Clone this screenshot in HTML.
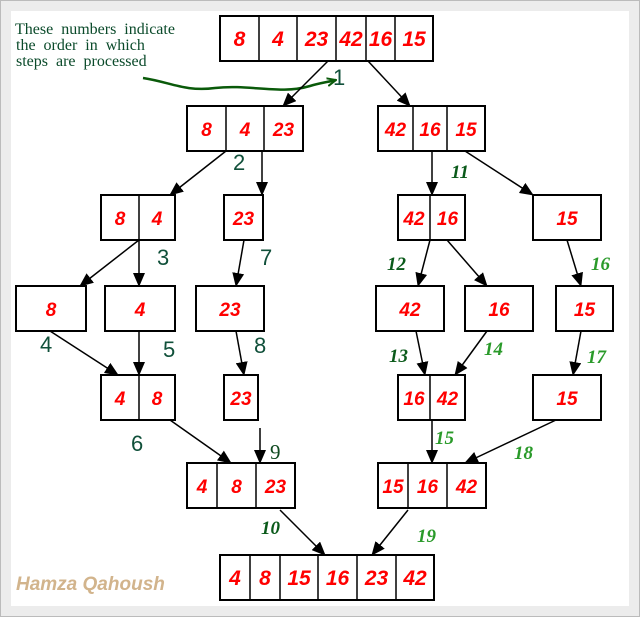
<!DOCTYPE html>
<html><head><meta charset="utf-8"><style>
html,body{margin:0;padding:0;background:#ececec;}
#wrap{position:relative;width:640px;height:617px;overflow:hidden;}
svg{position:absolute;left:0;top:0;}
</style></head><body>
<div id="wrap">
<svg id="s" width="640" height="617">
<defs><marker id="ah" markerWidth="14" markerHeight="12" refX="13" refY="6" orient="auto" markerUnits="userSpaceOnUse"><path d="M0,0 L14,6 L0,12 z" fill="#000"/></marker>
<marker id="gh" markerWidth="10" markerHeight="10" refX="9" refY="5" orient="auto" markerUnits="userSpaceOnUse"><path d="M0,1 L9,5 L0,9" fill="none" stroke="#0a5a0a" stroke-width="2"/></marker></defs>
<rect x="0.5" y="0.5" width="639" height="616" fill="#ececec" stroke="#bbb"/>
<rect x="11" y="11" width="618" height="595" fill="#fff"/>
<g font-family="Liberation Serif,serif" font-size="16" fill="#0a4a2a" word-spacing="4">
<text x="15" y="34">These numbers indicate</text>
<text x="16" y="50">the order in which</text>
<text x="16" y="66">steps are processed</text>
</g>
<path d="M143,78 C170,82 185,92 215,88 C250,84 280,95 310,86 C320,83 328,82 336,80" fill="none" stroke="#0a5a0a" stroke-width="2.5" marker-end="url(#gh)"/>
<text x="16" y="590" font-family="Liberation Sans,sans-serif" font-size="19" font-weight="bold" font-style="italic" fill="#d2b48c">Hamza Qahoush</text>
<g id="boxes"></g><g id="arrows"></g><g id="steps"></g>
</svg>
</div>
<script>
const boxX=[[220,259,297,336,366,395,433],[187,226,264,303],[378,413,447,485],[101,139,175],[224,263],[398,430,465],[533,601],[16,86],[105,175],[196,264],[376,444],[465,533],[556,613],[101,139,175],[224,258],[398,430,465],[533,601],[187,217,256,295],[378,408,447,486],[220,250,280,318,357,396,434]];
const boxY=[16,106,106,195,195,195,195,286,286,286,286,286,286,375,375,375,375,463,463,555];
const boxVals=[[8,4,23,42,16,15],[8,4,23],[42,16,15],[8,4],[23],[42,16],[15],[8],[4],[23],[42],[16],[15],[4,8],[23],[16,42],[15],[4,8,23],[15,16,42],[4,8,15,16,23,42]];
const arrows=[[328,61,283,106],[368,61,410,106],[226,151,170,195],[262,151,262,195],[432,151,432,195],[465,151,533,195],[139,240,80,286],[139,240,139,286],[244,240,236,286],[430,240,418,286],[447,240,487,286],[567,240,581,286],[50,331,118,375],[139,331,139,375],[236,331,244,375],[416,331,425,375],[487,331,455,375],[581,331,573,375],[170,420,231,463],[260,428,260,463],[432,420,432,463],[556,420,465,463],[280,510,325,555],[408,510,372,555]];
const stepLabels=["1","2","3","4","5","6","7","8","9","10","11","12","13","14","15","16","17","18","19"];
const stepPos=[[333,85],[233,170],[157,265],[40,352],[163,357],[131,451],[260,265],[254,353],[270,459],[261,534],[451,178],[387,270],[389,362],[484,355],[435,444],[591,270],[587,363],[514,459],[417,542]];
const stepStyle=["s","s","s","s","s","s","s","s","r","i","i","i","i","g","g","g","g","g","g"];
const NS="http://www.w3.org/2000/svg";
const B=document.getElementById('boxes'),A=document.getElementById('arrows'),T=document.getElementById('steps');
boxX.forEach((xs,i)=>{
 const g=document.createElementNS(NS,'g');
 
 
 const y=boxY[i];
 const fs=(i===0||i===19)?21:19;
 const r=document.createElementNS(NS,'rect');
 r.setAttribute('x',xs[0]);r.setAttribute('y',y);r.setAttribute('width',xs[xs.length-1]-xs[0]);r.setAttribute('height',45);
 r.setAttribute('fill','#fff');r.setAttribute('stroke','#000');r.setAttribute('stroke-width','2');
 g.appendChild(r);
 for(let k=1;k<xs.length-1;k++){const l=document.createElementNS(NS,'line');l.setAttribute('x1',xs[k]);l.setAttribute('x2',xs[k]);l.setAttribute('y1',y);l.setAttribute('y2',y+45);l.setAttribute('stroke','#000');l.setAttribute('stroke-width','1.5');g.appendChild(l);}
 const vals=boxVals[i];
 vals.forEach((v,k)=>{
  const cx=(xs.length-1===vals.length)?(xs[k]+xs[k+1])/2:(xs[0]+xs[xs.length-1])/2;
  const t=document.createElementNS(NS,'text');
  
  
  t.setAttribute('x',cx);t.setAttribute('y',y+30);t.setAttribute('text-anchor','middle');
  t.setAttribute('font-family','Liberation Sans,sans-serif');t.setAttribute('font-size',fs);t.setAttribute('font-weight','bold');t.setAttribute('font-style','italic');t.setAttribute('fill','#f00');
  t.textContent=v;g.appendChild(t);
 });
 B.appendChild(g);
});
arrows.forEach(a=>{
 const l=document.createElementNS(NS,'line');
 
 
 l.setAttribute('x1',a[0]);l.setAttribute('y1',a[1]);l.setAttribute('x2',a[2]);l.setAttribute('y2',a[3]);
 l.setAttribute('stroke','#000');l.setAttribute('stroke-width','1.5');l.setAttribute('marker-end','url(#ah)');
 A.appendChild(l);
});
stepLabels.forEach((s,i)=>{
 const t=document.createElementNS(NS,'text');
 
 
 t.setAttribute('x',stepPos[i][0]);t.setAttribute('y',stepPos[i][1]);
 const st=stepStyle[i];
 if(st==='s'){t.setAttribute('font-family','Liberation Sans,sans-serif');t.setAttribute('font-size','22');t.setAttribute('fill','#10503a');}
 else if(st==='r'){t.setAttribute('font-family','Liberation Serif,serif');t.setAttribute('font-size','21');t.setAttribute('fill','#0f4a20');}
 else{t.setAttribute('font-family','Liberation Serif,serif');t.setAttribute('font-style','italic');t.setAttribute('font-weight','bold');t.setAttribute('font-size','19');t.setAttribute('fill',st==='i'?'#0a5a1a':'#2a9a2a');}
 t.textContent=s;T.appendChild(t);
});
</script>
</body></html>
